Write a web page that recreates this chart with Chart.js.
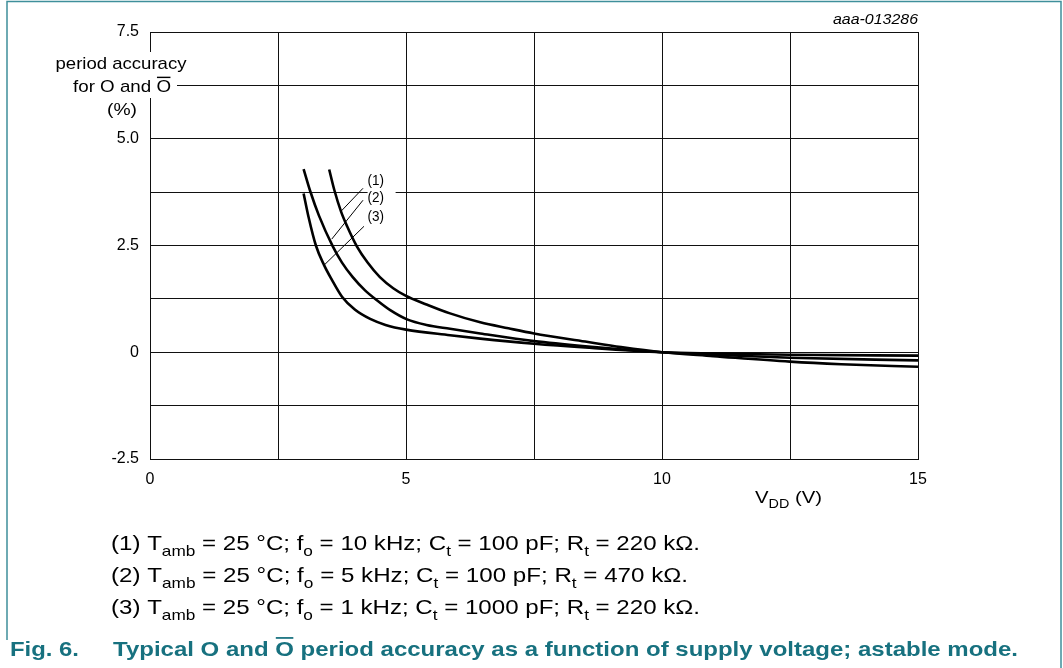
<!DOCTYPE html>
<html>
<head>
<meta charset="utf-8">
<script src="https://cdn.jsdelivr.net/npm/chart.js@4.4.1/dist/chart.umd.min.js"></script>
<style>
  html, body { margin: 0; padding: 0; background: #fff; }
  canvas { display: block; }
</style>
</head>
<body>
<canvas id="chart" width="1063" height="668"></canvas>
<script>
// curve (1): fo = 10 kHz
const vdd1 = [3.5, 3.6, 3.73, 3.85, 4.04, 4.25, 4.49, 4.75, 5.0, 5.4, 5.86, 6.45, 7.0, 7.5, 8.5, 9.2, 10, 11, 12.5, 13.5, 15];
const acc1 = [4.28, 3.8, 3.3, 2.95, 2.48, 2.1, 1.76, 1.5, 1.32, 1.12, 0.91, 0.7, 0.56, 0.44, 0.25, 0.12, 0, -0.09, -0.22, -0.28, -0.34];
// curve (2): fo = 5 kHz
const vdd2 = [3.0, 3.13, 3.3, 3.57, 3.75, 3.96, 4.2, 4.43, 4.7, 5.02, 5.4, 5.86, 6.45, 7.5, 8.5, 10, 11, 12.5, 15];
const acc2 = [4.29, 3.77, 3.2, 2.48, 2.1, 1.76, 1.45, 1.22, 0.98, 0.77, 0.64, 0.55, 0.44, 0.26, 0.14, 0, -0.06, -0.13, -0.19];
// curve (3): fo = 1 kHz
const vdd3 = [3.0, 3.1, 3.24, 3.4, 3.55, 3.75, 4.0, 4.3, 4.6, 5.0, 5.86, 6.45, 7.5, 8.5, 10, 11, 12.5, 15];
const acc3 = [3.72, 3.15, 2.5, 2.04, 1.7, 1.3, 1.0, 0.78, 0.64, 0.53, 0.40, 0.32, 0.2, 0.11, 0, -0.03, -0.06, -0.08];

const curveNames = ['(1)', '(2)', '(3)'];
const xTickLabels = { '0': '0', '5': '5', '10': '10', '15': '15' };
const yTickLabels = { '7.5': '7.5', '5': '5.0', '2.5': '2.5', '0': '0', '-2.5': '-2.5' };

// leader lines for the curve labels, in data units [x1, y1, x2, y2]
const leaders = [[4.16, 3.84, 3.73, 3.30], [4.16, 3.56, 3.55, 2.65], [4.18, 2.95, 3.40, 2.04]];
const labelPos = [[4.41, 4.03], [4.41, 3.63], [4.41, 3.19]];

const FONT = '"Liberation Sans", Arial, sans-serif';
const TEAL = '#17717f';

function pts(xs, ys) {
  return xs.map((x, i) => ({ x: x, y: ys[i] }));
}

// draw a line of text made of runs, optional subscript / overline, squeezed to a width
function drawRich(ctx, runs, x, y, size, opt) {
  opt = opt || {};
  const bold = opt.bold ? 'bold ' : '';
  const italic = opt.italic ? 'italic ' : '';
  const big = italic + bold + size + 'px ' + FONT;
  const small = italic + bold + Math.round(size * 0.72) + 'px ' + FONT;
  let total = 0;
  runs.forEach(r => {
    ctx.font = r.sub ? small : big;
    r.w = ctx.measureText(r.t).width;
    total += r.w;
  });
  const sx = opt.width ? opt.width / total : (opt.sx || 1);
  let start = x;
  if (opt.align === 'right') start = x - total * sx;
  if (opt.align === 'center') start = x - total * sx / 2;
  ctx.save();
  ctx.translate(start, y);
  ctx.scale(sx, 1);
  ctx.fillStyle = opt.color || '#000';
  ctx.strokeStyle = opt.color || '#000';
  ctx.textBaseline = 'alphabetic';
  ctx.textAlign = 'left';
  let cx = 0;
  runs.forEach(r => {
    ctx.font = r.sub ? small : big;
    ctx.fillText(r.t, cx, r.sub ? size * 0.3 : 0);
    if (r.over) {
      ctx.lineWidth = Math.max(1, size / 12);
      ctx.beginPath();
      ctx.moveTo(cx + 0.5, -size * 0.86);
      ctx.lineTo(cx + r.w - 0.5, -size * 0.86);
      ctx.stroke();
    }
    cx += r.w;
  });
  ctx.restore();
}

const extras = {
  id: 'extras',
  afterDraw(chart) {
    const ctx = chart.ctx;
    const xs = chart.scales.x, ys = chart.scales.y;

    // figure frame
    ctx.save();
    ctx.strokeStyle = '#3f8f9b';
    ctx.lineWidth = 1.5;
    ctx.beginPath();
    ctx.moveTo(7, 640);
    ctx.lineTo(7, 1.5);
    ctx.lineTo(1061, 1.5);
    ctx.lineTo(1061, 668);
    ctx.stroke();
    ctx.restore();

    // y axis title with white backing
    ctx.fillStyle = '#fff';
    ctx.fillRect(55, 52, 122, 46);
    drawRich(ctx, [{ t: 'period accuracy' }], 121, 69, 17, { align: 'center', width: 131 });
    drawRich(ctx, [{ t: 'for O and ' }, { t: 'O', over: true }], 171, 92, 17, { align: 'right', width: 98 });
    drawRich(ctx, [{ t: '(%)' }], 122, 115, 17, { align: 'center', width: 30 });

    // x axis title
    drawRich(ctx, [{ t: 'V' }, { t: 'DD', sub: true }, { t: ' (V)' }], 755, 503, 17, { width: 67 });

    // figure id
    drawRich(ctx, [{ t: 'aaa-013286' }], 918, 24, 14, { align: 'right', italic: true, width: 85 });

    // curve labels and leaders
    ctx.save();
    ctx.fillStyle = '#fff';
    ctx.fillRect(xs.getPixelForValue(4.25), ys.getPixelForValue(4.26), 28, 54);
    ctx.strokeStyle = '#000';
    ctx.lineWidth = 1;
    leaders.forEach(l => {
      ctx.beginPath();
      ctx.moveTo(xs.getPixelForValue(l[0]), ys.getPixelForValue(l[1]));
      ctx.lineTo(xs.getPixelForValue(l[2]), ys.getPixelForValue(l[3]));
      ctx.stroke();
    });
    ctx.restore();
    curveNames.forEach((n, i) => {
      drawRich(ctx, [{ t: n }], xs.getPixelForValue(labelPos[i][0]), ys.getPixelForValue(labelPos[i][1]) + 5, 15, { align: 'center', sx: 0.9 });
    });

    // conditions
    const cond = [
      ['(1) T', 'amb', ' = 25 \u00b0C; f', 'o', ' = 10 kHz; C', 't', ' = 100 pF; R', 't', ' = 220 k\u03a9.'],
      ['(2) T', 'amb', ' = 25 \u00b0C; f', 'o', ' = 5 kHz; C', 't', ' = 100 pF; R', 't', ' = 470 k\u03a9.'],
      ['(3) T', 'amb', ' = 25 \u00b0C; f', 'o', ' = 1 kHz; C', 't', ' = 1000 pF; R', 't', ' = 220 k\u03a9.']
    ];
    const condW = [589, 577, 589];
    cond.forEach((c, i) => {
      const runs = c.map((t, k) => ({ t: t, sub: k % 2 === 1 }));
      drawRich(ctx, runs, 111, 550 + i * 32, 21, { width: condW[i] });
    });

    // figure caption
    drawRich(ctx, [{ t: 'Fig. 6.' }], 10, 656, 21, { bold: true, color: TEAL, width: 69 });
    drawRich(ctx, [{ t: 'Typical O and ' }, { t: 'O', over: true }, { t: ' period accuracy as a function of supply voltage; astable mode.' }],
      113, 656, 21, { bold: true, color: TEAL, width: 905 });
  }
};

const lineStyle = {
  borderColor: '#000',
  borderWidth: 2.6,
  pointRadius: 0,
  fill: false,
  cubicInterpolationMode: 'monotone'
};

new Chart(document.getElementById('chart'), {
  type: 'line',
  data: {
    datasets: [
      Object.assign({ label: curveNames[0], data: pts(vdd1, acc1) }, lineStyle),
      Object.assign({ label: curveNames[1], data: pts(vdd2, acc2) }, lineStyle),
      Object.assign({ label: curveNames[2], data: pts(vdd3, acc3) }, lineStyle)
    ]
  },
  options: {
    responsive: false,
    animation: false,
    devicePixelRatio: 1,
    layout: { padding: { left: 0, top: 32, right: 145, bottom: 169 } },
    plugins: { legend: { display: false }, tooltip: { enabled: false } },
    scales: {
      x: {
        type: 'linear',
        min: 0, max: 15,
        afterFit(s) { s.height = 40; },
        grid: { color: '#111', lineWidth: 1, drawTicks: false },
        border: { color: '#111', width: 1 },
        ticks: {
          stepSize: 2.5, padding: 11, maxRotation: 0, autoSkip: false,
          color: '#000', font: { family: FONT, size: 16 },
          callback: v => xTickLabels[String(v)] || ''
        }
      },
      y: {
        min: -2.5, max: 7.5,
        afterFit(s) { s.width = 150; },
        grid: { color: '#111', lineWidth: 1, drawTicks: false },
        border: { color: '#111', width: 1 },
        ticks: {
          stepSize: 1.25, padding: 11, autoSkip: false,
          color: '#000', font: { family: FONT, size: 16 },
          callback: v => yTickLabels[String(v)] || ''
        }
      }
    }
  },
  plugins: [extras]
});
</script>
</body>
</html>
